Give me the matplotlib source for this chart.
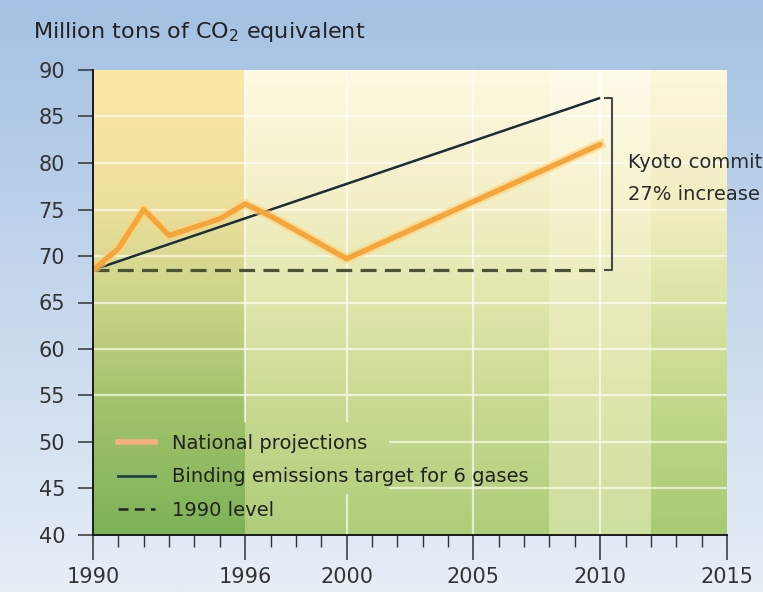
import numpy as np
import matplotlib
matplotlib.use("Agg")
import matplotlib.pyplot as plt
from matplotlib.colors import to_rgb
from matplotlib.lines import Line2D

# ---- data ----
proj_years = [1990, 1991, 1992, 1993, 1995, 1996, 1997, 2000, 2010]
proj_values = [68.5, 70.8, 75.0, 72.2, 74.0, 75.6, 74.3, 69.7, 82.0]

target_years = [1990, 2010]
target_values = [68.5, 87.0]

base_years = [1990, 2010]
base_level = 68.5

major_years = [1990, 1996, 2000, 2005, 2010, 2015]
y_ticks = list(range(40, 95, 5))

# background bands (start year, end year) and colours from bottom (40) to top (90)
band_edges = [1990, 1996, 2008, 2012, 2015]
band_stops = [40, 55, 65, 75, 90]
band_colors = [
    ["#7db257", "#a6c46c", "#c9d487", "#ecdf9c", "#fce8a6"],
    ["#afcc79", "#cadb93", "#dfe6ab", "#f2eec4", "#fef9e0"],
    ["#cde0a0", "#dee6ac", "#eaecbc", "#f6f2cc", "#fffbea"],
    ["#a8ca72", "#c4d98c", "#dbe4a6", "#f1edc0", "#fdf7dc"],
]

plt.rcParams["font.family"] = ["DejaVu Sans"]

fig = plt.figure(figsize=(7.63, 5.92), dpi=100)

# light blue page background
bg = fig.add_axes([0, 0, 1, 1], zorder=-10)
top, bottom = np.array(to_rgb("#a4c1e3")), np.array(to_rgb("#e7eef6"))
t = np.linspace(0, 1, 256)[:, None]
bg.imshow((top * (1 - t) + bottom * t)[:, None, :], aspect="auto",
          extent=(0, 1, 0, 1))
bg.set_axis_off()

ax = fig.add_axes([93 / 763, 1 - 535 / 592, 634 / 763, 465 / 592])
ax.set_facecolor("none")

# gradient plot area built column by column from the band colours
ny, nx = 300, 500
yv = np.linspace(90, 40, ny)
xv = np.linspace(1990, 2015, nx)
img = np.zeros((ny, nx, 3))
for i in range(len(band_edges) - 1):
    cols = np.array([to_rgb(c) for c in band_colors[i]])
    grad = np.stack([np.interp(yv, band_stops, cols[:, k]) for k in range(3)], axis=1)
    mask = (xv >= band_edges[i]) & (xv <= band_edges[i + 1])
    img[:, mask, :] = grad[:, None, :]
ax.imshow(img, aspect="auto", extent=(1990, 2015, 40, 90),
          interpolation="nearest", zorder=0)

# white grid, kept clear of the legend block
grid_kw = dict(color="white", alpha=0.65, lw=1.6, zorder=1)
for v in y_ticks[1:-1]:
    x0 = 2001.7 if v <= 50 else 1990
    ax.plot([x0, 2015], [v, v], **grid_kw)
ax.plot([1996, 1996], [52.3, 90], **grid_kw)
ax.plot([2000, 2000], [40, 44.3], **grid_kw)
ax.plot([2000, 2000], [52.3, 90], **grid_kw)
ax.plot([2005, 2005], [40, 90], **grid_kw)
ax.plot([2010, 2010], [40, 90], **grid_kw)

# 1990 level, target and projections
ax.plot(base_years, [base_level, base_level], color="#4b5238", lw=2.3,
        dashes=(5, 2.6), zorder=3)
ax.plot(target_years, target_values, color="#1d2c3a", lw=1.8, zorder=4,
        solid_capstyle="butt")
ax.plot(proj_years, proj_values, color="#fdd27c", lw=7, alpha=0.6, zorder=5,
        solid_joinstyle="round")
ax.plot(proj_years, proj_values, color="#f5a53a", lw=3.8, zorder=6,
        solid_joinstyle="round", solid_capstyle="round")

# Kyoto bracket
bx = 2010.45
ax.plot([bx - 0.25, bx, bx, bx - 0.25],
        [target_values[-1], target_values[-1], base_level, base_level],
        color="#4a4a4a", lw=1.5, zorder=6, clip_on=False)
ax.text(2011.1, 80.0, "Kyoto commitment:", fontsize=14, color="#2a2a2a",
        va="center", ha="left", clip_on=False)
ax.text(2011.1, 76.6, "27% increase", fontsize=14, color="#2a2a2a",
        va="center", ha="left", clip_on=False)

ax.set_xlim(1990, 2015)
ax.set_ylim(40, 90)
ax.set_xticks(major_years)
ax.set_xticks(range(1990, 2016), minor=True)
ax.set_yticks(y_ticks)
ax.tick_params(axis="x", which="major", length=18, width=1.1, color="#333333",
               labelsize=15, labelcolor="#333333", pad=5)
ax.tick_params(axis="x", which="minor", length=8.5, width=1.0, color="#333333")
ax.tick_params(axis="y", length=11, width=1.1, color="#333333",
               labelsize=15, labelcolor="#333333", pad=9)
for side in ["top", "right"]:
    ax.spines[side].set_visible(False)
for side in ["left", "bottom"]:
    ax.spines[side].set_color("#1a1a1a")
    ax.spines[side].set_linewidth(1.4)
    ax.spines[side].set_zorder(7)

handles = [
    Line2D([], [], color="#f5b07c", lw=4),
    Line2D([], [], color="#22404c", lw=2),
    Line2D([], [], color="#222222", lw=1.8, dashes=(4, 2.5)),
]
labels = ["National projections", "Binding emissions target for 6 gases",
          "1990 level"]
ax.legend(handles, labels, loc="lower left", bbox_to_anchor=(0.04, 0.032),
          frameon=False, fontsize=14, handlelength=1.9, handletextpad=0.85,
          labelspacing=0.76, borderpad=0, borderaxespad=0,
          labelcolor="#222222")

fig.text(33 / 763, 1 - 32 / 592, "Million tons of CO$_2$ equivalent",
         fontsize=16, color="#222222", va="center", ha="left")

fig.savefig("out.png", dpi=100)
